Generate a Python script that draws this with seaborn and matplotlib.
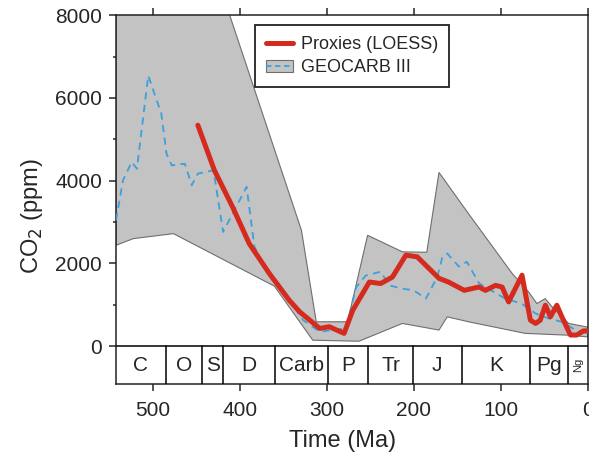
import numpy as np
import matplotlib
matplotlib.use('Agg')
import matplotlib.pyplot as plt
from matplotlib.lines import Line2D
from matplotlib.patches import Patch
import seaborn as sns

# GEOCARB III envelope (upper and lower bounds), Ma / ppm
env_upper_t = [542, 470, 430, 329, 312, 276, 253, 213, 185, 171, 137, 87, 68, 58.5, 49, 41, 22, 0]
env_upper_v = [12000, 12000, 9170, 2800, 590, 590, 2680, 2280, 2270, 4200, 3200, 1760, 1310, 1030, 1150, 950, 550, 460]
env_lower_t = [542, 522, 476, 360, 316, 263, 213, 171, 161.5, 137, 72, 22, 0]
env_lower_v = [2440, 2600, 2720, 1450, 145, 120, 550, 390, 710, 590, 310, 265, 225]

# GEOCARB III central estimate
geo_t = [542, 534, 524, 518, 505, 490, 484, 478, 463, 455, 448, 430, 419, 392, 383, 366, 343,
         327, 308, 278, 266, 255, 238, 228, 213, 200, 186, 173, 167, 161.5, 148, 139, 129, 125,
         95, 76, 60, 45, 30, 14, 0]
geo_v = [3040, 4010, 4450, 4290, 6540, 5620, 4650, 4370, 4410, 3890, 4170, 4250, 2760, 3850,
         2400, 1700, 1110, 630, 350, 430, 1430, 1710, 1800, 1470, 1390, 1350, 1150, 1670, 2160,
         2240, 1920, 2040, 1670, 1520, 1150, 1030, 790, 670, 590, 390, 310]

# Proxy LOESS curve
proxy_t = [448, 429, 408, 389, 366, 343, 331, 308, 297, 280, 270, 251, 238, 224.5, 209, 196,
           171, 160, 142, 125, 117.6, 106, 98.5, 91, 75.6, 66, 60, 54.6, 48.8, 43, 35.6, 29.8,
           20, 12.6, 5, 0]
proxy_v = [5340, 4250, 3360, 2480, 1760, 1110, 830, 430, 470, 310, 870, 1550, 1515, 1670,
           2200, 2160, 1640, 1550, 1350, 1430, 1350, 1470, 1430, 1070, 1715, 630, 550, 630,
           990, 710, 990, 710, 270, 270, 370, 370]

# geologic periods
period_names = ['C', 'O', 'S', 'D', 'Carb', 'P', 'Tr', 'J', 'K', 'Pg', 'Ng']
period_edges = [542, 485, 443, 419, 359, 299, 252, 201, 145, 66, 23, 0]

red = '#d52b1e'
blue = '#3d9fdb'
grey = '#c3c3c3'
edge = '#6e6e6e'

sns.set_style('ticks')
plt.rcParams['font.family'] = ['Liberation Sans', 'DejaVu Sans']

fig = plt.figure(figsize=(5.89, 4.59), dpi=100)
ax = fig.add_axes([0.197, 0.163, 0.801, 0.804])

ymin = -918
ax.fill(np.r_[env_upper_t, env_lower_t[::-1]], np.r_[env_upper_v, env_lower_v[::-1]],
        facecolor=grey, edgecolor=edge, lw=0.8, zorder=1)

sns.lineplot(x=geo_t, y=geo_v, ax=ax, color=blue, lw=1.3, linestyle=(0, (4, 3)),
             sort=False, estimator=None, zorder=3)
sns.lineplot(x=proxy_t, y=proxy_v, ax=ax, color=red, lw=3.6, sort=False,
             estimator=None, zorder=4)

# period band below zero
ax.axhline(0, color='k', lw=1.1, zorder=5)
for b in period_edges[1:-1]:
    ax.plot([b, b], [ymin, 0], color='k', lw=1.1, zorder=5)
for i, name in enumerate(period_names):
    mid = (period_edges[i] + period_edges[i + 1]) / 2
    if name == 'Ng':
        ax.text(mid, ymin / 2, name, ha='center', va='center', fontsize=8, rotation=90)
    else:
        ax.text(mid, ymin / 2, name, ha='center', va='center', fontsize=15)

ax.set_xlim(542, 0)
ax.set_ylim(ymin, 8000)
ax.set_xticks([500, 400, 300, 200, 100, 0])
ax.set_yticks([0, 2000, 4000, 6000, 8000])
ax.set_yticks([1000, 3000, 5000, 7000], minor=True)
ax.tick_params(axis='both', which='major', labelsize=15, length=5, width=1.1, direction='out')
ax.tick_params(axis='y', which='minor', length=2.5, width=1.1)
ax.tick_params(axis='x', top=True, pad=7)
ax.tick_params(axis='y', pad=5)
for s in ax.spines.values():
    s.set_linewidth(1.1)
    s.set_color('#222222')

ax.set_xlabel('Time (Ma)', fontsize=17)
ax.set_ylabel('CO$_2$ (ppm)', fontsize=17)
ax.xaxis.set_label_coords(0.481, -0.125)
ax.yaxis.set_label_coords(-0.150, 0.455)

handles = [Line2D([], [], color=red, lw=3.6),
           (Patch(facecolor=grey, edgecolor=edge, lw=0.8),
            Line2D([], [], color=blue, lw=1.3, linestyle=(0, (3, 2))))]
leg = ax.legend(handles, ['Proxies (LOESS)', 'GEOCARB III'], loc='upper left',
                bbox_to_anchor=(0.294, 0.973), borderaxespad=0, fontsize=13,
                fancybox=False, framealpha=1, edgecolor='#222222',
                handlelength=1.5, handletextpad=0.45, borderpad=0.6, labelspacing=0.35)
leg.get_frame().set_linewidth(1.3)

fig.savefig('out.png', dpi=100)
